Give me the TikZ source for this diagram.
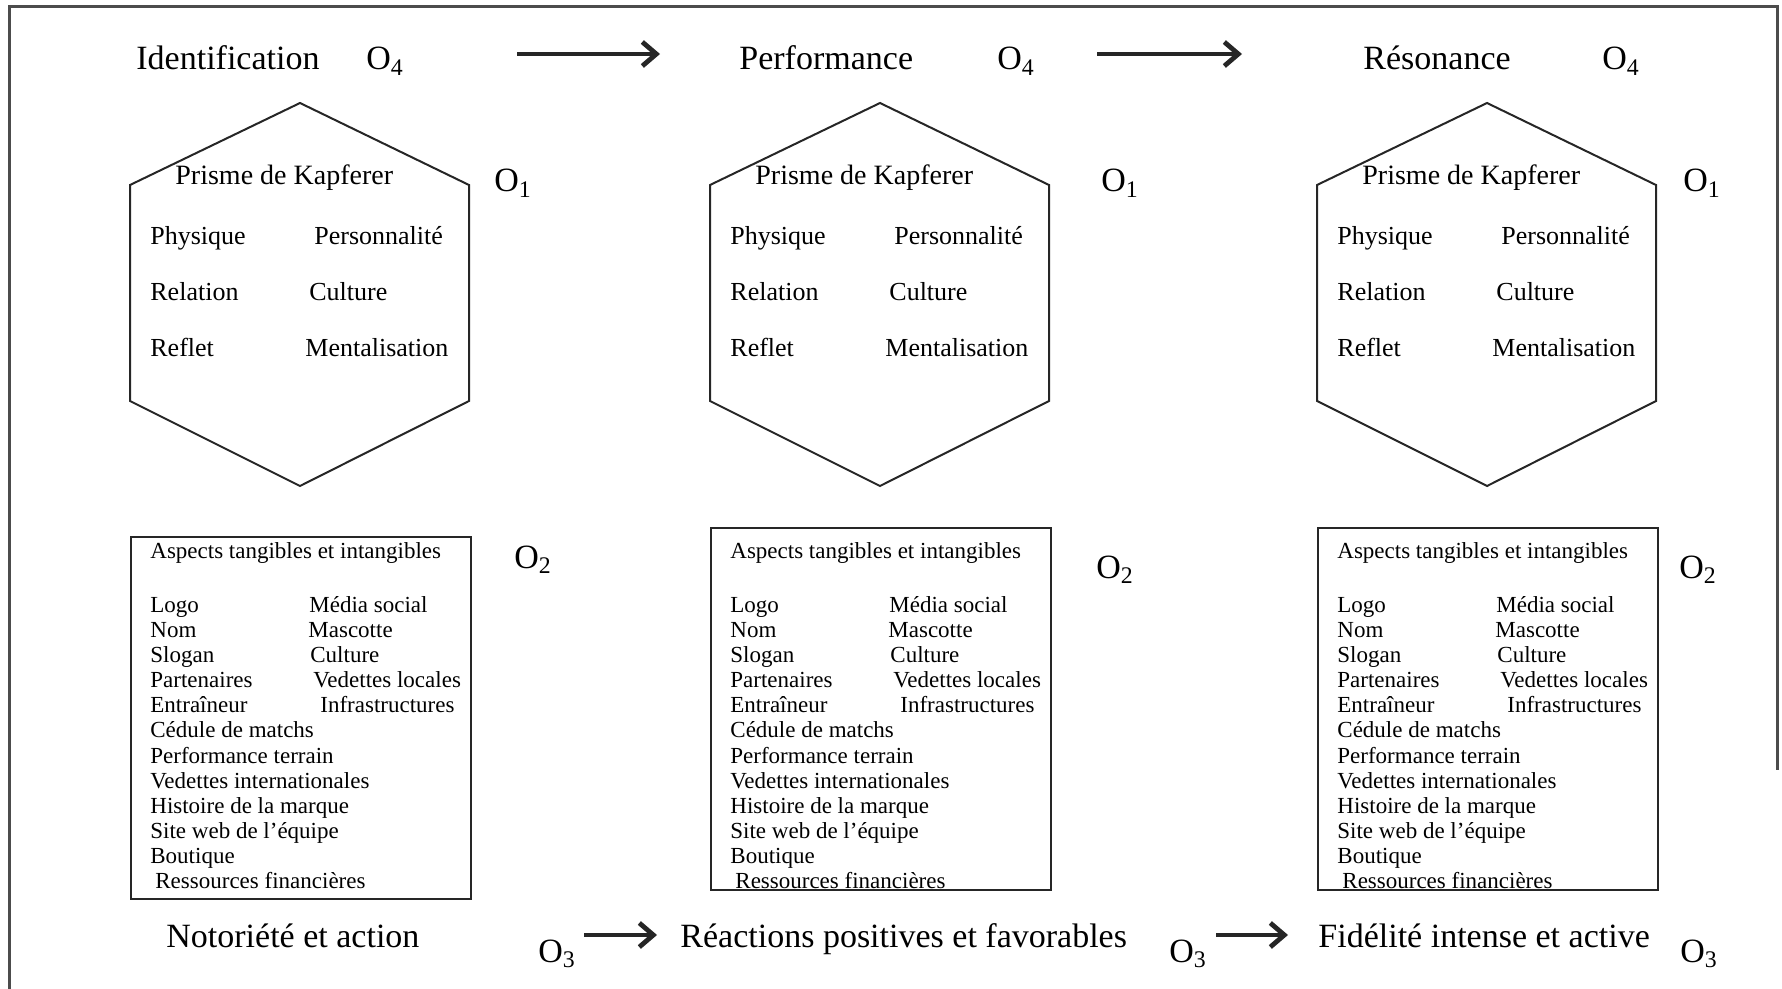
\documentclass[tikz,border=0pt]{standalone}
\usepackage{fontspec}
\setmainfont{Liberation Serif}
\usetikzlibrary{arrows.meta}
\newcommand{\Olab}[1]{O\textsubscript{#1}}
% one column: prism of Kapferer + box of aspects
% #1 name, #2 left x of the column, #3 top y of the box
\newcommand{\kapPanel}[3]{%
  \begin{scope}[shift={(#2,0)}]
  \draw[Prism] (0,185) -- (170,103) -- (339,185) -- (339,401) -- (170,486) -- (0,401) -- cycle;
  \node[PrismText,font=\fontsize{14}{16}\selectfont] (#1-kap) at (45,185) {Prisme de Kapferer};
  \node[PrismText] (#1-phy) at (20,245) {Physique};
  \node[PrismText] (#1-per) at (184,245) {Personnalité};
  \node[PrismText] (#1-rel) at (20,301) {Relation};
  \node[PrismText] (#1-cul) at (179,301) {Culture};
  \node[PrismText] (#1-ref) at (20,357) {Reflet};
  \node[PrismText] (#1-men) at (175,357) {Mentalisation};
  %
  \node[Panel] (#1-box) at (0,#3) {};
  \node[ListItem] (#1-asp) at (20,558) {Aspects tangibles et intangibles};
  \node[ListItem] (#1-logo) at (20,612) {Logo};
  \node[ListItem] (#1-nom) at (20,637) {Nom};
  \node[ListItem] (#1-slo) at (20,662) {Slogan};
  \node[ListItem] (#1-par) at (20,687) {Partenaires};
  \node[ListItem] (#1-ent) at (20,712) {Entraîneur};
  \node[ListItem] (#1-ced) at (20,737) {Cédule de matchs};
  \node[ListItem] (#1-pt) at (20,763) {Performance terrain};
  \node[ListItem] (#1-vi) at (20,788) {Vedettes internationales};
  \node[ListItem] (#1-his) at (20,813) {Histoire de la marque};
  \node[ListItem] (#1-web) at (20,838) {Site web de l’équipe};
  \node[ListItem] (#1-bou) at (20,863) {Boutique};
  \node[ListItem] (#1-res) at (25,888) {Ressources financières};
  \node[ListItem] (#1-med) at (179,612) {Média social};
  \node[ListItem] (#1-mas) at (178,637) {Mascotte};
  \node[ListItem] (#1-clt) at (180,662) {Culture};
  \node[ListItem] (#1-vl) at (183,687) {Vedettes locales};
  \node[ListItem] (#1-inf) at (190,712) {Infrastructures};
  \end{scope}}

\begin{document}
\begin{tikzpicture}[x=0.5pt,y=-0.5pt,>={Straight Barb[length=7pt,width=12pt,line width=2.4pt]},
	Frame/.style={draw=black!70,line width=1.5pt},
	Flow/.style={->,black!85,line width=2pt},
	Prism/.style={draw=black!85,line width=1pt},
	Panel/.style={draw=black!85,line width=1pt,anchor=north west,inner sep=0,minimum width=170pt,minimum height=181pt},
	Stage/.style={anchor=base west,inner sep=0,font=\fontsize{17}{20}\selectfont},
	PrismText/.style={anchor=base west,inner sep=0,font=\fontsize{13}{15}\selectfont},
	ListItem/.style={anchor=base west,inner sep=0,font=\fontsize{11.5}{13}\selectfont},
]
	\useasboundingbox (0,0) rectangle (1782,989);
	\draw[Frame] (9,989) -- (9,7) -- (1777,7) -- (1777,770);

	% stages
	\node[Stage] (ident) at (136,70) {Identification};
	\node[Stage] (o4a) at (366,70) {\Olab{4}};
	\node[Stage] (perf) at (739,70) {Performance};
	\node[Stage] (o4b) at (997,70) {\Olab{4}};
	\node[Stage] (reso) at (1363,70) {Résonance};
	\node[Stage] (o4c) at (1602,70) {\Olab{4}};

	\node[Stage] (o1a) at (494,192) {\Olab{1}};
	\node[Stage] (o1b) at (1101,192) {\Olab{1}};
	\node[Stage] (o1c) at (1683,192) {\Olab{1}};
	\node[Stage] (o2a) at (514,568) {\Olab{2}};
	\node[Stage] (o2b) at (1096,578) {\Olab{2}};
	\node[Stage] (o2c) at (1679,578) {\Olab{2}};

	\kapPanel{p1}{130}{536}
	\kapPanel{p2}{710}{527}
	\kapPanel{p3}{1317}{527}

	% outcomes
	\node[Stage] (noto) at (166,947) {Notoriété et action};
	\node[Stage] (o3a) at (538,962) {\Olab{3}};
	\node[Stage] (reac) at (680,947) {Réactions positives et favorables};
	\node[Stage] (o3b) at (1169,962) {\Olab{3}};
	\node[Stage] (fide) at (1318,947) {Fidélité intense et active};
	\node[Stage] (o3c) at (1680,962) {\Olab{3}};

	\coordinate (t1s) at (517,54);
	\coordinate (t1e) at (660,54);
	\coordinate (t2s) at (1097,54);
	\coordinate (t2e) at (1242,54);
	\coordinate (b1s) at (584,935);
	\coordinate (b1e) at (657,935);
	\coordinate (b2s) at (1216,935);
	\coordinate (b2e) at (1288,935);
	\draw[Flow] (t1s) -- (t1e);
	\draw[Flow] (t2s) -- (t2e);
	\draw[Flow] (b1s) -- (b1e);
	\draw[Flow] (b2s) -- (b2e);
\end{tikzpicture}
\end{document}
